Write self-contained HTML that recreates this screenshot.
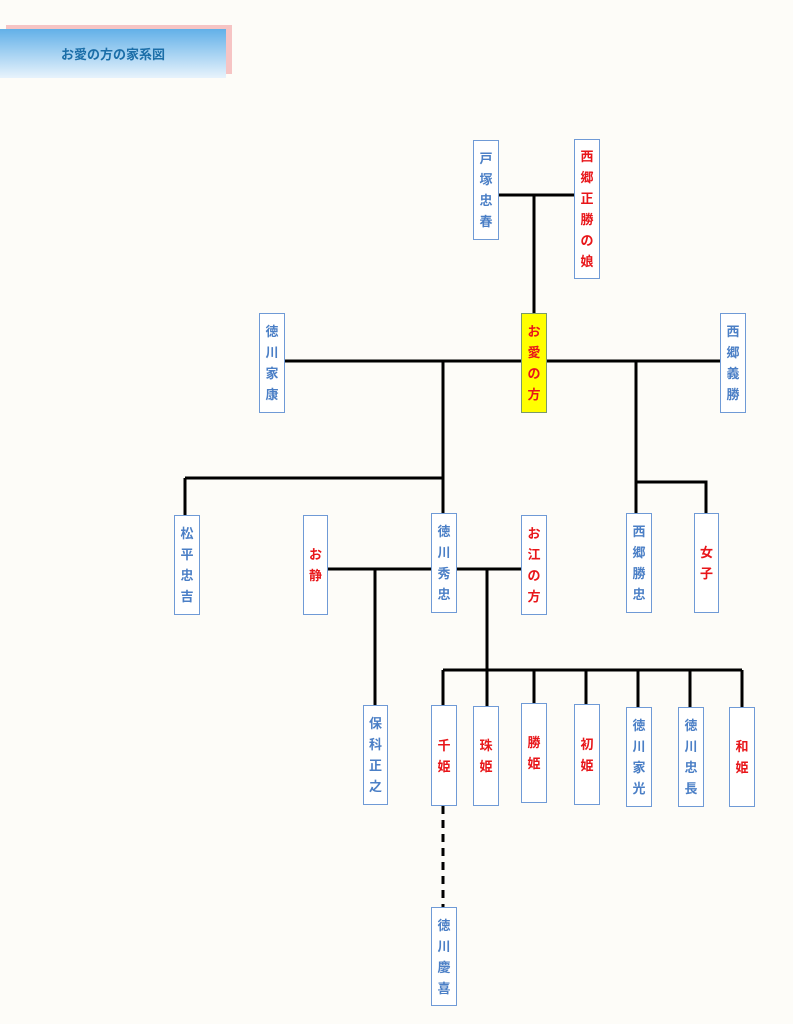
<!DOCTYPE html>
<html><head><meta charset="utf-8"><style>
body{margin:0;width:793px;height:1024px;background:#fdfcf8;position:relative;overflow:hidden;font-family:"Liberation Sans","Noto Sans CJK JP",sans-serif}
.b{position:absolute;box-sizing:border-box;border:1.5px solid #6f9ad6;background:#fff;display:flex;flex-direction:column;align-items:center;justify-content:center;font-weight:bold;font-size:13px;line-height:21px;color:#4b7fc6}
.r{color:#e8161a}
svg{position:absolute;left:0;top:0}
.t{position:absolute;left:0;top:29px;width:226px;height:49px;background:linear-gradient(#62b0e8,#e8f3fc);box-shadow:6px -4px 0 #f6c4c4;color:#1b6ea8;font-weight:bold;font-size:13px;display:flex;align-items:center;justify-content:center}
</style></head><body>
<div class="t">お愛の方の家系図</div>
<svg width="793" height="1024" stroke="#000" stroke-width="3" fill="none">
<path d="M498 195H574M534 195V313M284 361H720M443 361V513M185 478H443M185 478V515M636 361V513M636 482H706V513M327 569H521M375 569V705M487 569V670M443 670H742M443 670V705M487 670V706M534 670V703M586 670V704M638 670V707M690 670V707M742 670V707"/>
<path d="M443 806V907" stroke-dasharray="8 6"/>
</svg>
<div class="b" style="left:473px;top:140px;width:26px;height:100px">戸<br>塚<br>忠<br>春</div>
<div class="b r" style="left:574px;top:139px;width:26px;height:140px">西<br>郷<br>正<br>勝<br>の<br>娘</div>
<div class="b r" style="left:521px;top:313px;width:26px;height:100px;background:#ffff00;border-color:#7a9a6a">お<br>愛<br>の<br>方</div>
<div class="b" style="left:259px;top:313px;width:26px;height:100px">徳<br>川<br>家<br>康</div>
<div class="b" style="left:720px;top:313px;width:26px;height:100px">西<br>郷<br>義<br>勝</div>
<div class="b" style="left:174px;top:515px;width:26px;height:100px">松<br>平<br>忠<br>吉</div>
<div class="b r" style="left:303px;top:515px;width:25px;height:100px">お<br>静</div>
<div class="b" style="left:431px;top:513px;width:26px;height:100px">徳<br>川<br>秀<br>忠</div>
<div class="b r" style="left:521px;top:515px;width:26px;height:100px">お<br>江<br>の<br>方</div>
<div class="b" style="left:626px;top:513px;width:26px;height:100px">西<br>郷<br>勝<br>忠</div>
<div class="b r" style="left:694px;top:513px;width:25px;height:100px">女<br>子</div>
<div class="b" style="left:363px;top:705px;width:25px;height:100px">保<br>科<br>正<br>之</div>
<div class="b r" style="left:431px;top:705px;width:26px;height:101px">千<br>姫</div>
<div class="b r" style="left:473px;top:706px;width:26px;height:100px">珠<br>姫</div>
<div class="b r" style="left:521px;top:703px;width:26px;height:100px">勝<br>姫</div>
<div class="b r" style="left:574px;top:704px;width:26px;height:101px">初<br>姫</div>
<div class="b" style="left:626px;top:707px;width:26px;height:100px">徳<br>川<br>家<br>光</div>
<div class="b" style="left:678px;top:707px;width:26px;height:100px">徳<br>川<br>忠<br>長</div>
<div class="b r" style="left:729px;top:707px;width:26px;height:100px">和<br>姫</div>
<div class="b" style="left:431px;top:907px;width:26px;height:99px">徳<br>川<br>慶<br>喜</div>
</body></html>
